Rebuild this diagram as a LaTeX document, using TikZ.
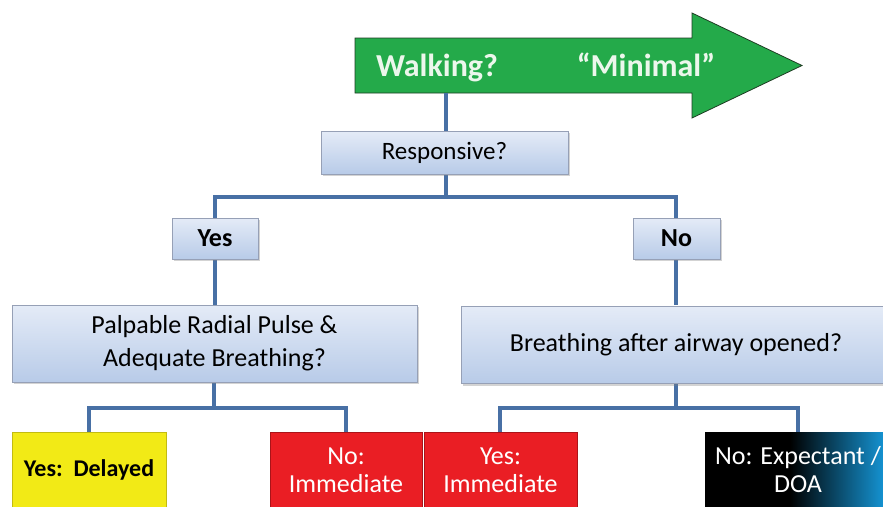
\documentclass[tikz,border=0pt]{standalone}
\usepackage{fontspec}
\setmainfont{Carlito}
\usetikzlibrary{shadows}
\definecolor{conn}{RGB}{72,112,165}
\definecolor{boxtop}{RGB}{228,235,247}
\definecolor{boxbot}{RGB}{184,203,232}
\definecolor{boxline}{RGB}{150,160,182}
\definecolor{arrgreen}{RGB}{36,170,74}
\definecolor{arrline}{RGB}{30,60,35}
\definecolor{arrtextc}{RGB}{236,247,236}
\definecolor{yel}{RGB}{242,234,22}
\definecolor{redbox}{RGB}{234,30,36}
\definecolor{redline}{RGB}{170,20,25}
\definecolor{doablue}{RGB}{22,158,226}
\begin{document}
\begin{tikzpicture}[x=1pt,y=-1pt,
  conline/.style={draw=conn,line width=3.6pt,line join=miter},
  qbox/.style={draw=boxline,line width=0.6pt,top color=boxtop,bottom color=boxbot,
    drop shadow={opacity=0.35,shadow xshift=1.5pt,shadow yshift=-2pt},
    inner sep=0pt,align=center,text=black},
  resbox/.style={inner sep=0pt,align=center,minimum height=76pt},
  arrtext/.style={text=arrtextc,font=\fontsize{32}{36}\selectfont\bfseries,inner sep=0pt,anchor=base}]
\useasboundingbox (0,0) rectangle (883,506);

% green arrow
\fill[arrgreen,draw=arrline,line width=0.8pt,line join=miter]
  (355,38) -- (692,38) -- (692,13) -- (802,65.5) -- (692,118) -- (692,93) -- (355,93) -- cycle;
\node[arrtext] (walk) at (437,76) {Walking?};
\node[arrtext] (mini) at (646,76) {“Minimal”};

% coordinates for junctions
\coordinate (arrbot) at (446,93);
\coordinate (j1) at (446,197);
\coordinate (j2) at (214,408);
\coordinate (j3) at (676,408);

% connectors (drawn under the boxes)
\draw[conline] (arrbot) -- (446,131);
\draw[conline] (446,174) -- (j1);
\draw[conline] (215,218) -- (215,197) -- (676,197) -- (676,218);
\draw[conline] (215,259) -- (215,305);
\draw[conline] (676,259) -- (676,305);
\draw[conline] (214,382) -- (j2);
\draw[conline] (89,432) -- (89,408) -- (346,408) -- (346,432);
\draw[conline] (676,382) -- (j3);
\draw[conline] (500,432) -- (500,408) -- (798,408) -- (798,432);

% question boxes
\node[qbox,minimum width=247pt,minimum height=43pt,font=\fontsize{25}{30}\selectfont]
  (resp) at (444.5,152.5) {Responsive?};
\node[qbox,minimum width=86pt,minimum height=41pt,font=\fontsize{26}{30}\selectfont\bfseries]
  (yes) at (215,238.5) {Yes};
\node[qbox,minimum width=87pt,minimum height=41pt,font=\fontsize{26}{30}\selectfont\bfseries]
  (no) at (676.5,238.5) {No};
\node[qbox,minimum width=405pt,minimum height=77pt,font=\fontsize{26}{33}\selectfont]
  (palp) at (214.5,343.5) {Palpable Radial Pulse \&\\Adequate Breathing?};
\node[qbox,minimum width=430pt,minimum height=77pt,font=\fontsize{26}{33}\selectfont]
  (breath) at (676,345) {Breathing after airway opened?};

% result boxes
\node[resbox,fill=yel,draw=yel!80!black,line width=0.5pt,minimum width=154pt,
  font=\fontsize{24}{28}\selectfont\bfseries] (delayed) at (89,470) {Yes:\ \ Delayed};
\node[resbox,fill=redbox,draw=redline,line width=0.5pt,minimum width=152pt,text=white,
  font=\fontsize{26}{28}\selectfont] (imm1) at (346,470) {No:\\Immediate};
\node[resbox,fill=redbox,draw=redline,line width=0.5pt,minimum width=153pt,text=white,
  font=\fontsize{26}{28}\selectfont] (imm2) at (500.5,470) {Yes:\\Immediate};
\node[resbox,fill=black,minimum width=186pt] (doabox) at (798,470) {};
\fill[left color=black,right color=doablue] (790,432) rectangle (891,508);
\node[text=white,align=center,inner sep=0pt,font=\fontsize{26}{28}\selectfont]
  (doa) at (doabox.center) {No: Expectant /\\DOA};
\end{tikzpicture}
\end{document}
